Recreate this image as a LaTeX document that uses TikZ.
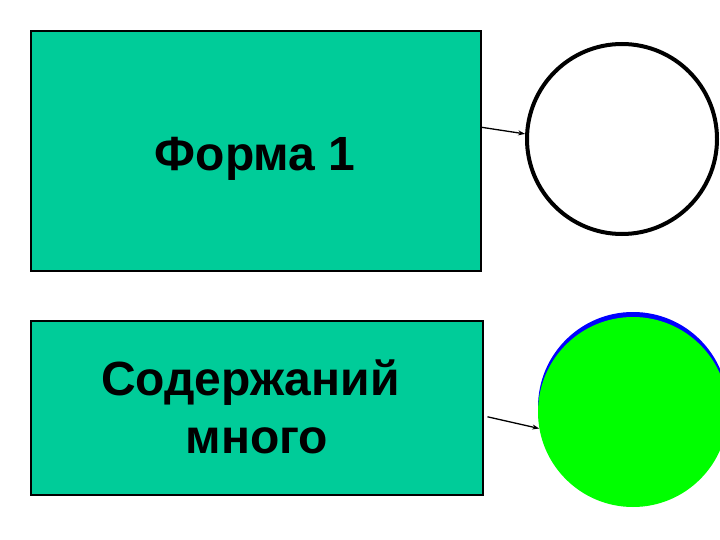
\documentclass[tikz,border=0pt]{standalone}
\usepackage{fontspec}
\setmainfont{Liberation Sans}
\usetikzlibrary{arrows.meta}
\definecolor{boxteal}{HTML}{00CC99}
\definecolor{ringblue}{HTML}{0000FF}
\definecolor{discgreen}{HTML}{00FF00}
\tikzset{
  shapebox/.style={draw=black, line width=1.2pt, fill=boxteal, inner sep=0pt},
  boxtext/.style={font=\fontsize{48}{58}\selectfont\bfseries, align=center},
  pointer/.style={-{Stealth[length=7pt,width=5pt]}, line width=1.3pt}
}
\begin{document}
\begin{tikzpicture}[x=1pt, y=-1pt]
      \useasboundingbox (0,0) rectangle (720,540);
      \node[shapebox, minimum width=450pt, minimum height=240pt] (form) at (256,151) {};
      \node[boxtext] (formtext) at (255,159) {Форма 1};
      \node[shapebox, minimum width=452pt, minimum height=174pt] (content) at (257,408) {};
      \node[boxtext] (contenttext) at (257,407) {Содержаний\hphantom{\ }\\много};
      \node[circle, draw=black, line width=4pt, minimum size=190pt, inner sep=0pt] (ring) at (622,139) {};
      \node[circle, fill=ringblue, minimum size=190pt, inner sep=0pt] (halo) at (633,407) {};
      \node[circle, fill=discgreen, minimum size=190pt, inner sep=0pt] (disc) at (633,412) {};
      \draw[pointer] (form.6) -- (ring.177);
      \draw[pointer, shorten <=4pt] (content.358) -- (disc.190);
    \end{tikzpicture}
\end{document}
